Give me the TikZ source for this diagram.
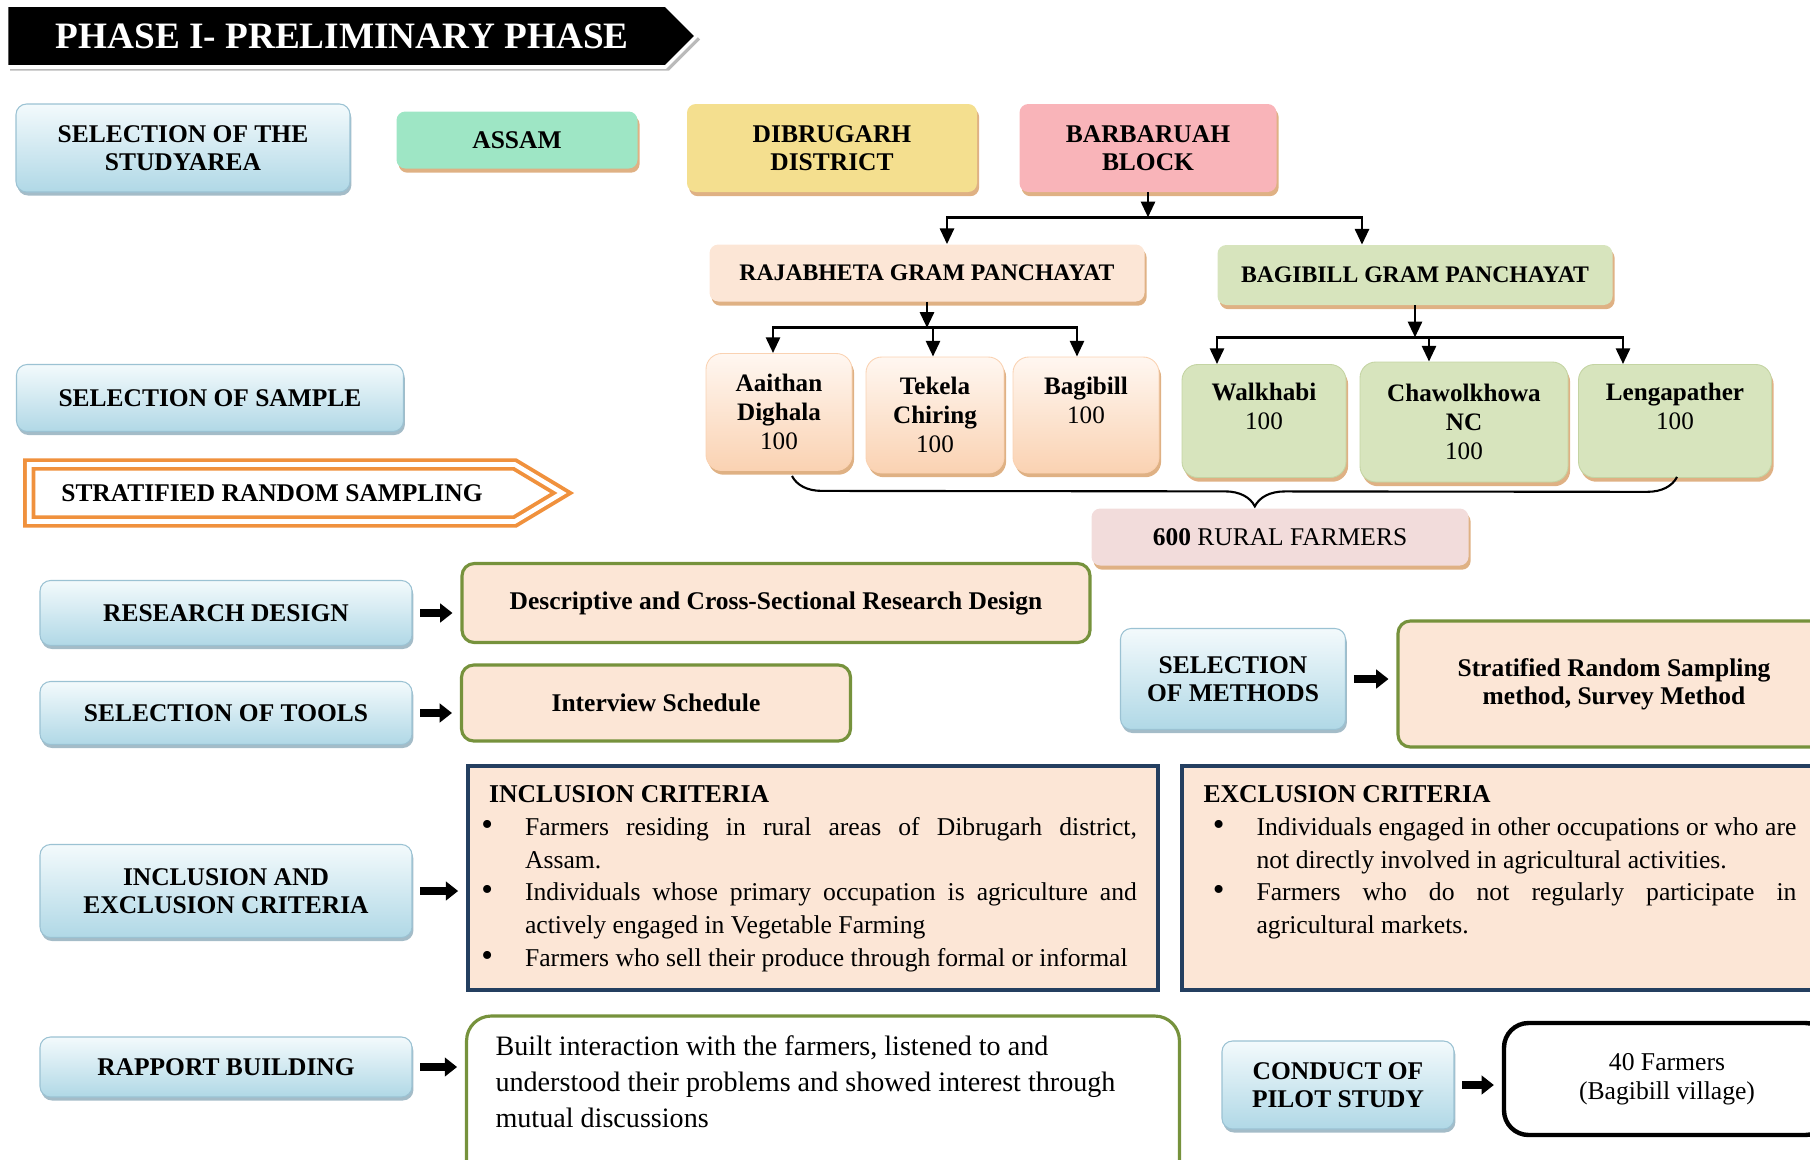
\documentclass[tikz,border=0pt]{standalone}
\usepackage{fontspec}
\setmainfont{Liberation Serif}
\usepackage{enumitem}
\usetikzlibrary{positioning,calc,arrows.meta,shapes.symbols,shadows,decorations.pathreplacing}

\definecolor{bluetop}{HTML}{F3FAFC}
\definecolor{bluebot}{HTML}{B0D8E6}
\definecolor{blueline}{HTML}{9BC2D3}
\definecolor{blueshade}{HTML}{7E9FB0}
\definecolor{mint}{HTML}{9EE6C5}
\definecolor{sand}{HTML}{F4DF8F}
\definecolor{rose}{HTML}{F9B4B9}
\definecolor{peach}{HTML}{FCE6D6}
\definecolor{peachtop}{HTML}{FFF7F1}
\definecolor{peachbot}{HTML}{FAD2B2}
\definecolor{sage}{HTML}{D7E4BD}
\definecolor{blush}{HTML}{F2DCDB}
\definecolor{olive}{HTML}{76923C}
\definecolor{navy}{HTML}{243F60}
\definecolor{tanshade}{HTML}{D9A36E}
\definecolor{stripe}{HTML}{F0913D}

\newcommand\boxfont{\fontsize{14.5}{16}\selectfont\bfseries}
\newcommand\bodyfont{\fontsize{14.6}{18.7}\selectfont}
\newcommand\dotlabel{{\fontsize{19}{19}\selectfont\textbullet}}

\setlist[itemize]{label=\dotlabel, labelsep=0.64cm, itemsep=0pt, topsep=0pt,
  parsep=0pt, partopsep=0pt}

\tikzset{
  sz/.style 2 args={minimum width=#1*0.02cm,minimum height=#2*0.02cm},
  bluebox/.style={draw=blueline, line width=0.6pt, rounded corners=6pt,
    top color=bluetop, bottom color=bluebot, inner sep=0pt, align=center, font=\boxfont,
    drop shadow={shadow xshift=0.8pt, shadow yshift=-2pt, fill=blueshade, opacity=0.7}},
  tilebox/.style={rounded corners=5pt, inner sep=0pt, align=center, font=\boxfont,
    drop shadow={shadow xshift=1.2pt, shadow yshift=-2.4pt, fill=tanshade, opacity=0.85}},
  gpbox/.style={tilebox, font=\fontsize{13.5}{16}\selectfont\bfseries},
  villbox/.style={tilebox, rounded corners=9pt, font=\fontsize{14.3}{16.4}\selectfont},
  peachvill/.style={villbox, draw=peachbot, line width=0.5pt, top color=peachtop, bottom color=peachbot},
  sagevill/.style={villbox, draw=sage!80!olive, line width=0.5pt, fill=sage},
  olivebox/.style={draw=olive, line width=1.8pt, fill=peach, rounded corners=7pt,
    inner sep=0pt, align=center, font=\boxfont},
  critbox/.style={draw=navy, line width=2.3pt, fill=peach, inner xsep=0.42cm,
    inner ysep=0.3cm, font=\bodyfont},
  tree/.style={line width=1.6pt, -{Triangle[length=9pt,width=8pt]}},
  fatarrow/.style={line width=4.6pt, -{Triangle[length=7pt,width=10.5pt]},
    shorten <=4.5pt, shorten >=4.5pt},
  banner/.style={signal, signal to=east, fill=black, draw=white, line width=2pt,
    text=white, font=\fontsize{21.2}{24}\selectfont\bfseries, inner sep=0pt,
    drop shadow={shadow xshift=2pt, shadow yshift=-2pt, fill=black!45, opacity=0.6}},
  sampbox/.style={signal, signal to=east, signal pointer angle=62, draw=stripe,
    double=white, double distance=2.6pt, line width=2.2pt, fill=white,
    font=\boxfont, inner sep=0pt}
}

\begin{document}
\begin{tikzpicture}[x=0.02cm,y=-0.02cm]
\useasboundingbox (0,0) rectangle (1810,1160);
\clip (0,0) rectangle (1810,1160);

% heading
\node[banner, sz={690}{62}] (phase) at (336,36) {\hspace*{0.25cm}PHASE I- PRELIMINARY PHASE};

% study area
\node[bluebox, sz={334}{88}] (area) at (183,148) {SELECTION OF THE\\STUDYAREA};
\node[tilebox, fill=mint, sz={241}{57}] (assam) at (517,140) {ASSAM};
\node[tilebox, fill=sand, sz={290}{88}] (dist) at (832,148) {DIBRUGARH\\DISTRICT};
\node[tilebox, fill=rose, sz={257}{88}] (block) at (1148,148) {BARBARUAH\\BLOCK};

% gram panchayats
\node[gpbox, fill=peach, sz={435}{57}] (rgp) at (927,273) {RAJABHETA GRAM PANCHAYAT};
\node[gpbox, fill=sage, sz={395}{60}] (bgp) at (1415,275) {BAGIBILL GRAM PANCHAYAT};

% villages
\node[peachvill, sz={146}{117}] (aai) at (779,412) {\textbf{Aaithan}\\\textbf{Dighala}\\100};
\node[peachvill, sz={138}{116}] (tek) at (935,415) {\textbf{Tekela}\\\textbf{Chiring}\\100};
\node[peachvill, sz={146}{116}] (bgb) at (1086,415) {\textbf{Bagibill}\\100\\\mbox{}};
\node[sagevill, sz={164}{113}] (wal) at (1264,421) {\textbf{Walkhabi}\\100\\\mbox{}};
\node[sagevill, sz={208}{120}] (cha) at (1464,422) {\textbf{Chawolkhowa}\\\textbf{NC}\\100};
\node[sagevill, sz={193}{113}] (len) at (1675,421) {\textbf{Lengapather}\\100\\\mbox{}};

\coordinate (j1) at ($(block.south)+(0,25)$);
\draw[tree] (block.south) -- (j1);
\draw[tree] (j1) -| ($(rgp.north)+(20,0)$);
\draw[tree] (j1) -| ($(bgp.north)+(-53,0)$);

\coordinate (j2) at ($(rgp.south)+(0,26)$);
\draw[tree] (rgp.south) -- (j2);
\foreach \v/\dx in {aai/-6,tek/-2,bgb/-9}
  \draw[tree] (j2) -| ($(\v.north)+(\dx,0)$);

\coordinate (j3) at ($(bgp.south)+(0,32)$);
\draw[tree] (bgp.south) -- (j3);
\draw[tree] (j3) -| ($(wal.north)+(-47,0)$);
\draw[tree] (j3) -| ($(cha.north)+(-35,0)$);
\draw[tree] (j3) -| ($(len.north)+(-52,0)$);

% sample
\node[bluebox, sz={387}{67}] (sample) at (210,398) {SELECTION OF SAMPLE};
\node[sampbox, sz={533}{57}] (strat) at (272,493) {STRATIFIED RANDOM SAMPLING};
\draw[line width=1.2pt, decorate,
  decoration={brace, mirror, amplitude=17pt, aspect=0.523}]
  ($(aai.south)+(13,5)$) -- ($(len.south)+(2,-1)$);
\node[tilebox, fill=blush, sz={377}{57}, font=\fontsize{14.5}{16}\selectfont] (rural)
  at (1280,537) {\textbf{600} RURAL FARMERS};

% design, tools, methods
\node[bluebox, sz={372}{65}] (design) at (226,613) {RESEARCH DESIGN};
\node[olivebox, sz={628}{79}] (descr) at (776,603) {Descriptive and Cross-Sectional Research Design};
\node[bluebox, sz={372}{63}] (tools) at (226,713) {SELECTION OF TOOLS};
\node[olivebox, sz={389}{76}] (sched) at (656,703) {Interview Schedule};
\node[bluebox, sz={225}{101}] (meth) at (1233,679) {SELECTION\\OF METHODS};
\node[olivebox, sz={432}{126}] (srs) at (1614,684) {Stratified Random Sampling\\method, Survey Method};

\draw[fatarrow] (design.east) -- (design.east -| descr.west);
\draw[fatarrow] (tools.east) -- (tools.east -| sched.west);
\draw[fatarrow] (meth.east) -- (meth.east -| srs.west);

% criteria
\node[bluebox, sz={372}{93}] (crit) at (226,891) {INCLUSION AND\\EXCLUSION CRITERIA};
\node[critbox] (incl) at (813,878) {\begin{minipage}[t][3.88cm][t]{12.96cm}
\hyphenpenalty=10000 \exhyphenpenalty=10000
\vspace*{2.5pt}\textbf{INCLUSION CRITERIA}
\begin{itemize}[leftmargin=0.72cm]
\item Farmers residing in rural areas of Dibrugarh district,\linebreak Assam.
\item Individuals whose primary occupation is agriculture and\linebreak actively engaged in Vegetable Farming
\item Farmers who sell their produce through formal or informal
\end{itemize}
\end{minipage}};
\node[critbox, inner xsep=0.44cm] (excl) at (1500,878) {\begin{minipage}[t][3.88cm][t]{11.86cm}
\hyphenpenalty=10000 \exhyphenpenalty=10000
\vspace*{2.5pt}\textbf{EXCLUSION CRITERIA}
\begin{itemize}[leftmargin=1.06cm]
\item Individuals engaged in other occupations or who are\linebreak not directly involved in agricultural activities.
\item Farmers who do not regularly participate in\linebreak agricultural markets.
\end{itemize}
\end{minipage}};
\draw[fatarrow] (crit.east) -- (crit.east -| incl.west);

% rapport and pilot study
\node[bluebox, sz={372}{60}] (rapp) at (226,1067) {RAPPORT BUILDING};
\node[draw=olive, line width=1.8pt, fill=white, rounded corners=14pt, inner xsep=0.58cm,
  inner ysep=0.4cm, font=\fontsize{16}{20.4}\selectfont] (talk) at (823,1106)
  {\begin{minipage}[t][2.8cm][t]{13.1cm}\raggedright
  Built interaction with the farmers, listened to and understood their problems and showed interest through mutual discussions
  \end{minipage}};
\node[bluebox, sz={232}{88}] (pilot) at (1338,1085) {CONDUCT OF\\PILOT STUDY};
\node[draw=black, line width=2.5pt, fill=white, rounded corners=14pt, sz={326}{112},
  inner sep=0pt, align=center, font=\fontsize{14.6}{16.4}\selectfont] (forty)
  at (1667,1079) {40 Farmers\\(Bagibill village)};

\draw[fatarrow] (rapp.east) -- (rapp.east -| talk.west);
\draw[fatarrow] (pilot.east) -- (pilot.east -| forty.west);
\end{tikzpicture}
\end{document}
